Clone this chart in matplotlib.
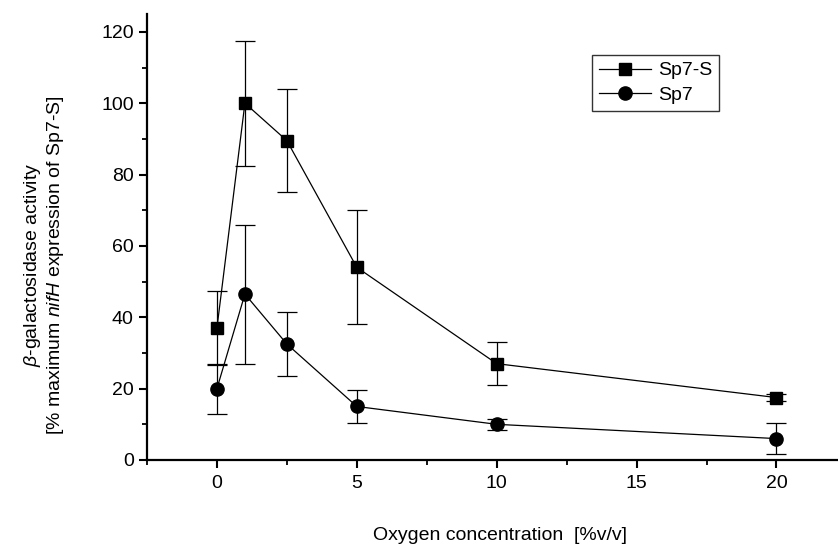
import matplotlib
matplotlib.use("Agg")
import matplotlib.pyplot as plt
from matplotlib import ticker
from matplotlib.lines import Line2D

# oxygen concentration [%v/v] and beta-galactosidase activity
oxygen = [0, 1, 2.5, 5, 10, 20]
sp7s = [37, 100, 89.5, 54, 27, 17.5]
sp7s_err = [10.5, 17.5, 14.5, 16, 6, 1]
sp7 = [20, 46.5, 32.5, 15, 10, 6]
sp7_err = [7, 19.5, 9, 4.5, 1.5, 4.3]

plt.rcParams['font.family'] = ['Liberation Sans', 'DejaVu Sans']
plt.rcParams['mathtext.fontset'] = 'custom'
plt.rcParams['mathtext.rm'] = 'Liberation Sans'
plt.rcParams['mathtext.it'] = 'Liberation Sans:italic'

fig = plt.figure(figsize=(8.38, 5.48), dpi=100)
ax = fig.add_axes([147 / 838, 88 / 548, 1 - 147 / 838, (460 - 14) / 548])

ax.errorbar(oxygen, sp7s, yerr=sp7s_err, color="black", lw=0.9, marker="s", ms=9,
            capsize=7, capthick=0.9, elinewidth=0.9)
ax.errorbar(oxygen, sp7, yerr=sp7_err, color="black", lw=0.9, marker="o", ms=9.5,
            capsize=7, capthick=0.9, elinewidth=0.9)

ax.set_xlim(-2.5, 22.2)
ax.set_ylim(0, 125)
ax.xaxis.set_major_locator(ticker.MultipleLocator(5))
ax.xaxis.set_minor_locator(ticker.MultipleLocator(2.5))
ax.yaxis.set_major_locator(ticker.MultipleLocator(20))
ax.yaxis.set_minor_locator(ticker.MultipleLocator(10))

for side in ["top", "right"]:
    ax.spines[side].set_visible(False)
for side in ["left", "bottom"]:
    ax.spines[side].set_linewidth(1.6)

ax.tick_params(which="major", direction="out", length=6, width=1.5, labelsize=14)
ax.tick_params(axis="x", which="major", pad=5)
ax.tick_params(which="minor", direction="out", length=3.5, width=1.3)

fig.text(500 / 838, 1 - 535 / 548, "Oxygen concentration  [%v/v]", fontsize=14,
         ha="center", va="center")
fig.text(33 / 838, 1 - 265 / 548, r"$\mathit{\beta}$-galactosidase activity", fontsize=14,
         rotation=90, ha="center", va="center")
fig.text(55 / 838, 1 - 265 / 548, r"[% maximum $\mathit{nifH}$ expression of Sp7-S]", fontsize=14,
         rotation=90, ha="center", va="center")

# legend handles without the error bar glyphs
handles = [Line2D([], [], color="black", lw=0.9, marker="s", ms=9),
           Line2D([], [], color="black", lw=0.9, marker="o", ms=9.5)]
leg = ax.legend(handles, ["Sp7-S", "Sp7"], loc="upper left",
                bbox_to_anchor=((592 - 147) / 691, (460 - 55) / 446),
                fontsize=14, frameon=True, fancybox=False, handlelength=2.7,
                handletextpad=0.35, borderpad=0.35, labelspacing=0.35, borderaxespad=0)
leg.get_frame().set_edgecolor("black")
leg.get_frame().set_linewidth(1.0)

fig.savefig("out.png", dpi=100)
